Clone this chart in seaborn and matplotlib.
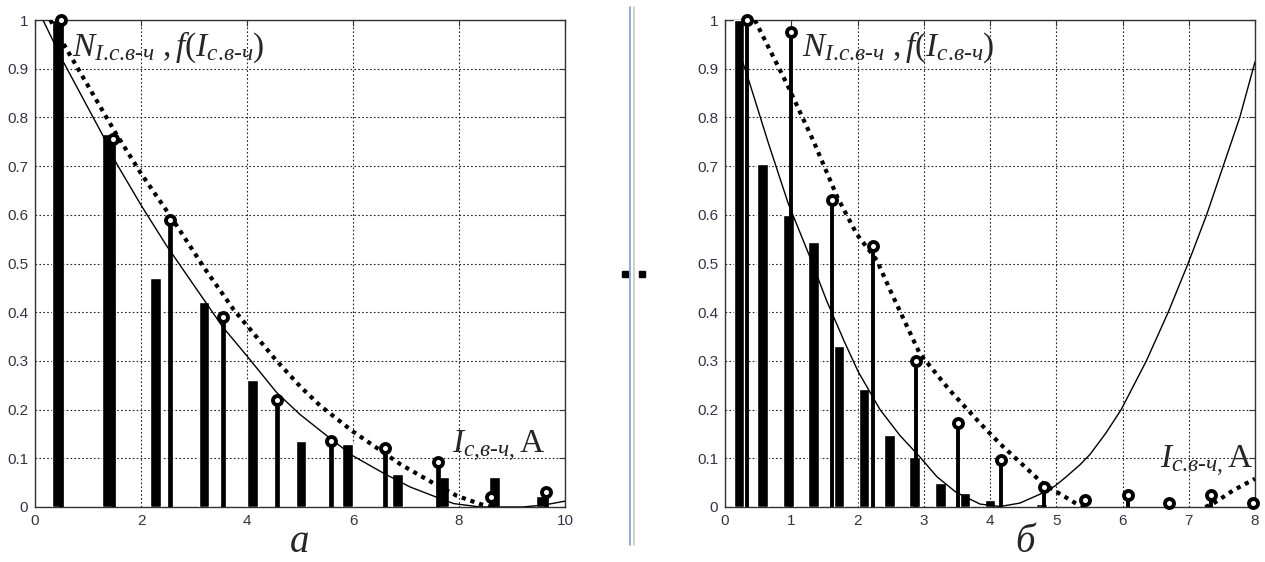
import matplotlib
matplotlib.use('Agg')
import matplotlib.pyplot as plt
import seaborn as sns
from matplotlib.lines import Line2D
from matplotlib.patches import Rectangle

# ---- panel a ----
a_bar_x = [0.43, 1.36, 2.27, 3.19, 4.10, 5.02, 5.90, 6.84, 7.72, 8.67, 9.56]
a_bar_h = [1.0, 0.765, 0.47, 0.42, 0.26, 0.135, 0.13, 0.067, 0.062, 0.062, 0.022]
a_stem_x = [0.49, 1.48, 2.55, 3.54, 4.56, 5.58, 6.60, 7.61, 8.60, 9.64]
a_stem_h = [1.0, 0.755, 0.59, 0.39, 0.22, 0.135, 0.122, 0.093, 0.02, 0.031]
a_fit_x = [0.15, 0.535, 1.26, 1.54, 2.0, 2.48, 3.0, 3.54, 4.0, 4.56, 5.0, 5.58,
           6.0, 6.6, 7.08, 7.58, 7.9, 8.4, 9.2, 9.6, 10.0]
a_fit_y = [1.0, 0.914, 0.767, 0.705, 0.62, 0.537, 0.455, 0.37, 0.31, 0.235, 0.19, 0.14,
           0.105, 0.068, 0.041, 0.02, 0.007, 0.0, 0.0, 0.004, 0.012]
a_dot_x = [0.29, 0.57, 1.0, 1.51, 2.0, 2.6, 3.2, 3.75, 4.56, 5.0, 5.38, 6.0, 6.6,
           6.89, 7.58, 7.96, 8.4, 8.6]
a_dot_y = [1.0, 0.945, 0.865, 0.77, 0.685, 0.59, 0.49, 0.405, 0.30, 0.248, 0.208, 0.155,
           0.11, 0.088, 0.045, 0.023, 0.006, 0.0]

# ---- panel б ----
b_bar_x = [0.21, 0.57, 0.955, 1.34, 1.72, 2.10, 2.48, 2.86, 3.25, 3.62, 4.00, 4.78]
b_bar_h = [1.0, 0.705, 0.60, 0.545, 0.33, 0.243, 0.148, 0.103, 0.05, 0.028, 0.015, 0.006]
b_stem_x = [0.33, 0.995, 1.62, 2.24, 2.88, 3.52, 4.16, 4.81, 5.44, 6.08, 6.70, 7.34, 7.97]
b_stem_h = [1.0, 0.975, 0.63, 0.535, 0.30, 0.173, 0.097, 0.041, 0.015, 0.025, 0.008, 0.024, 0.008]
b_fit_x = [0.2, 0.35, 0.66, 0.955, 1.28, 1.53, 1.8, 2.01, 2.34, 2.64, 2.94, 3.2, 3.49,
           3.85, 4.15, 4.45, 4.75, 4.98, 5.15, 5.36, 5.51, 5.75, 5.98, 6.36, 6.69, 6.99,
           7.27, 7.52, 7.77, 8.0]
b_fit_y = [0.94, 0.88, 0.745, 0.623, 0.514, 0.425, 0.34, 0.278, 0.2, 0.147, 0.103, 0.062, 0.03,
           0.006, 0.001, 0.008, 0.026, 0.043, 0.062, 0.087, 0.108, 0.152, 0.20, 0.30, 0.40,
           0.50, 0.60, 0.70, 0.80, 0.914]
b_dot_x1 = [0.45, 0.93, 1.33, 1.7, 1.99, 2.29, 2.51, 2.94, 3.39, 3.85, 4.15, 4.8, 5.3, 5.5]
b_dot_y1 = [1.0, 0.87, 0.753, 0.635, 0.56, 0.507, 0.44, 0.315, 0.24, 0.172, 0.13,
            0.048, 0.007, 0.0]
b_dot_x2 = [7.25, 7.37, 7.67, 8.0]
b_dot_y2 = [0.0, 0.007, 0.034, 0.058]

y_ticks = [0, 0.1, 0.2, 0.3, 0.4, 0.5, 0.6, 0.7, 0.8, 0.9, 1]
y_labels = ['0', '0.1', '0.2', '0.3', '0.4', '0.5', '0.6', '0.7', '0.8', '0.9', '1']

sns.set_style('white')
plt.rcParams['font.family'] = ['Liberation Sans', 'DejaVu Sans']
plt.rcParams['mathtext.fontset'] = 'custom'
plt.rcParams['mathtext.rm'] = 'Liberation Serif'
plt.rcParams['mathtext.it'] = 'Liberation Serif:italic'

fig = plt.figure(figsize=(12.65, 5.62), dpi=100)
ax_a = fig.add_axes([35 / 1265, 55 / 562, 530 / 1265, 487 / 562])
ax_b = fig.add_axes([725 / 1265, 55 / 562, 530 / 1265, 487 / 562])


def draw_panel(ax, bar_x, bar_h, bar_w, stem_x, stem_h, stem_lw, fit_x, fit_y, dots, xmax, xticks):
    ax.bar(bar_x, bar_h, width=bar_w, color='black', zorder=3)
    ax.vlines(stem_x, 0, stem_h, color='black', lw=stem_lw, zorder=4)
    sns.scatterplot(x=stem_x, y=stem_h, ax=ax, marker='o', s=42, facecolor='white',
                    edgecolor='black', linewidth=2.8, zorder=5, clip_on=False)
    sns.lineplot(x=fit_x, y=fit_y, ax=ax, color='black', lw=1.0, zorder=4)
    for dx, dy in dots:
        sns.lineplot(x=dx, y=dy, ax=ax, color='black', lw=3.0, linestyle=(0, (1, 1.2)), zorder=4)
    ax.set_xlim(0, xmax)
    ax.set_ylim(0, 1)
    ax.set_xticks(xticks)
    ax.set_yticks(y_ticks)
    ax.set_yticklabels(y_labels)
    ax.grid(True, color='#222222', linestyle=(0, (1.5, 2)), lw=0.8)
    ax.tick_params(direction='in', length=4, top=True, right=True, labelsize=11,
                   labelcolor='#333344', color='#333333', pad=5)
    for sp in ax.spines.values():
        sp.set_color('#333333')
        sp.set_linewidth(1.0)
    ax.set_axisbelow(True)


draw_panel(ax_a, a_bar_x, a_bar_h, 0.2, a_stem_x, a_stem_h, 3.4, a_fit_x, a_fit_y,
           [(a_dot_x, a_dot_y)], 10, [0, 2, 4, 6, 8, 10])
draw_panel(ax_b, b_bar_x, b_bar_h, 0.16, b_stem_x, b_stem_h, 2.8, b_fit_x, b_fit_y,
           [(b_dot_x1, b_dot_y1), (b_dot_x2, b_dot_y2)], 8, [0, 1, 2, 3, 4, 5, 6, 7, 8])

sub = r'c\text{.}в\text{-}ч'
top_label = r'$N_{I\text{.}' + sub + r'}\ ,f(I_{' + sub + r'})$'
ax_a.text(0.7, 0.926, top_label, fontsize=24, va='baseline', ha='left', zorder=6)
ax_b.text(1.16, 0.926, top_label, fontsize=24, va='baseline', ha='left', zorder=6)
ax_a.text(7.86, 0.11, r'$I_{c\text{,}в\text{-}ч\text{,}}\,\mathrm{A}$', fontsize=24,
          va='baseline', zorder=6)
ax_b.text(6.56, 0.08, r'$I_{c\text{.}в\text{-}ч\text{,}}\,\mathrm{A}$', fontsize=24,
          va='baseline', zorder=6)

fig.text(300 / 1265, 1 - 552 / 562, 'а', fontsize=28, family='Liberation Serif',
         style='italic', ha='center', va='baseline')
fig.text(1025 / 1265, 1 - 552 / 562, 'б', fontsize=28, family='Liberation Serif',
         style='italic', ha='center', va='baseline')

# divider between panels
fig.add_artist(Line2D([630 / 1265] * 2, [1 - 545 / 562, 1 - 7 / 562], color='#7f9cc4', lw=1.2))
fig.add_artist(Line2D([634 / 1265] * 2, [1 - 545 / 562, 1 - 7 / 562], color='#c8c8c8', lw=1.2))
for sx in [621.5, 638.5]:
    fig.add_artist(Rectangle((sx / 1265, 1 - 277 / 562), 6.5 / 1265, 6.5 / 562,
                             color='black', transform=fig.transFigure))

fig.savefig('out.png', dpi=100)
